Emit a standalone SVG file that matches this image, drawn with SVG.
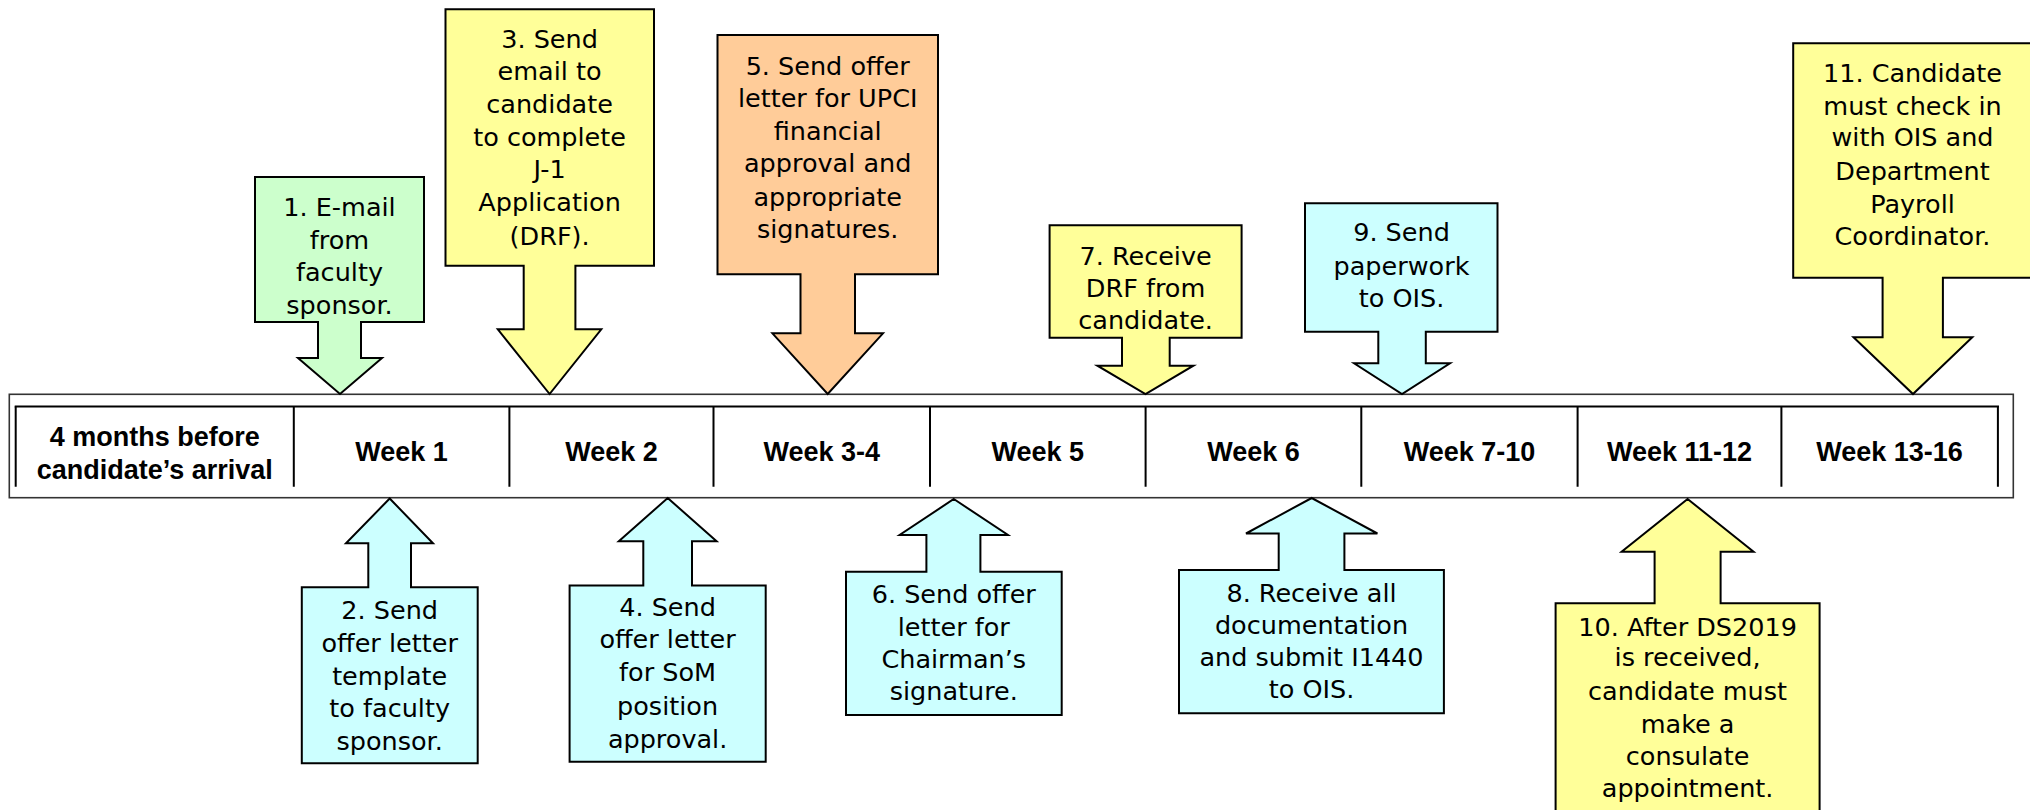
<svg xmlns="http://www.w3.org/2000/svg" width="2030" height="810" viewBox="0 0 2030 810">
<style>
  .call { stroke: #000; stroke-width: 2; stroke-linejoin: miter; }
  .green { fill: #CCFFCC; }
  .yellow { fill: #FFFF99; }
  .orange { fill: #FFCC99; }
  .cyan { fill: #CCFFFF; }
  .t { font-family: "DejaVu Sans", "Liberation Sans", sans-serif; font-size: 25.5px; fill: #000; text-anchor: middle; }
  .wk { font-family: "Liberation Sans", Arial, sans-serif; font-size: 27px; font-weight: bold; fill: #000; text-anchor: middle; }
  .grid { stroke: #000; stroke-width: 2; fill: none; }
</style>
<rect x="0" y="0" width="2030" height="810" fill="#fff"/>

<g id="timeline">
  <rect x="9.3" y="394.3" width="2004" height="103.4" fill="#fff" stroke="#333" stroke-width="1.6"/>
  <line class="grid" x1="14.7" y1="406.5" x2="1999" y2="406.5" stroke-width="2.6"/>
  <path class="grid" d="M15.7 406.5V486.7 M293.8 406.5V486.7 M509.4 406.5V486.7 M713.5 406.5V486.7 M930 406.5V486.7 M1145.6 406.5V486.7 M1361.3 406.5V486.7 M1577.6 406.5V486.7 M1781.4 406.5V486.7 M1997.9 406.5V486.7"/>
  <text class="wk" x="154.7" y="446.4">4 months before</text>
  <text class="wk" x="154.7" y="478.7">candidate’s arrival</text>
  <text class="wk" x="401.6" y="461.4">Week 1</text>
  <text class="wk" x="611.5" y="461.4">Week 2</text>
  <text class="wk" x="821.7" y="461.4">Week 3-4</text>
  <text class="wk" x="1037.8" y="461.4">Week 5</text>
  <text class="wk" x="1253.5" y="461.4">Week 6</text>
  <text class="wk" x="1469.5" y="461.4">Week 7-10</text>
  <text class="wk" x="1679.5" y="461.4">Week 11-12</text>
  <text class="wk" x="1889.6" y="461.4">Week 13-16</text>
</g>

<g id="step1">
  <path class="call green" d="M255 177H424V322H361V358H382L340 394L298 358H318V322H255Z"/>
  <text class="t" x="339.5" y="216.2">1. E-mail</text>
  <text class="t" x="339.5" y="248.5">from</text>
  <text class="t" x="339.5" y="281">faculty</text>
  <text class="t" x="339.5" y="313.5">sponsor.</text>
</g>

<g id="step3">
  <path class="call yellow" d="M445.5 9.3H654V265.7H575.4V329.3H601.3L549.6 394L497.8 329.3H523.7V265.7H445.5Z"/>
  <text class="t" x="549.6" y="47.5">3. Send</text>
  <text class="t" x="549.6" y="80.2">email to</text>
  <text class="t" x="549.6" y="112.5">candidate</text>
  <text class="t" x="549.6" y="146">to complete</text>
  <text class="t" x="549.6" y="177.7">J-1</text>
  <text class="t" x="549.6" y="211">Application</text>
  <text class="t" x="549.6" y="244.5">(DRF).</text>
</g>

<g id="step5">
  <path class="call orange" d="M717.5 35H938V274.3H855V333.3H883L827.7 394L772.4 333.3H800.5V274.3H717.5Z"/>
  <text class="t" x="827.7" y="74.5">5. Send offer</text>
  <text class="t" x="827.7" y="106.8">letter for UPCI</text>
  <text class="t" x="827.7" y="139.5">financial</text>
  <text class="t" x="827.7" y="172.2">approval and</text>
  <text class="t" x="827.7" y="205.5">appropriate</text>
  <text class="t" x="827.7" y="237.8">signatures.</text>
</g>

<g id="step7">
  <path class="call yellow" d="M1049.6 225.3H1241.6V337.7H1169.7V365.7H1193.4L1145.5 394L1097.4 365.7H1122V337.7H1049.6Z"/>
  <text class="t" x="1145.6" y="264.5">7. Receive</text>
  <text class="t" x="1145.6" y="296.8">DRF from</text>
  <text class="t" x="1145.6" y="328.8">candidate.</text>
</g>

<g id="step9">
  <path class="call cyan" d="M1305 203.3H1497.5V331.7H1425.8V363.3H1450L1402 394L1354.1 363.3H1378.3V331.7H1305Z"/>
  <text class="t" x="1401.5" y="241.2">9. Send</text>
  <text class="t" x="1401.5" y="274.5">paperwork</text>
  <text class="t" x="1401.5" y="307.2">to OIS.</text>
</g>

<g id="step11">
  <path class="call yellow" d="M1793.2 43.3H2033V277.7H1942.9V337.3H1972.3L1913 394L1853.5 337.3H1882.6V277.7H1793.2Z"/>
  <text class="t" x="1912.5" y="82.2">11. Candidate</text>
  <text class="t" x="1912.5" y="114.5">must check in</text>
  <text class="t" x="1912.5" y="146.2">with OIS and</text>
  <text class="t" x="1912.5" y="179.5">Department</text>
  <text class="t" x="1912.5" y="212.8">Payroll</text>
  <text class="t" x="1912.5" y="244.5">Coordinator.</text>
</g>

<g id="step2">
  <path class="call cyan" d="M389.7 498.5L433 543.3H411V587.3H477.7V763.3H301.8V587.3H368.3V543.3H346Z"/>
  <text class="t" x="389.7" y="618.8">2. Send</text>
  <text class="t" x="389.7" y="651.8">offer letter</text>
  <text class="t" x="389.7" y="684.5">template</text>
  <text class="t" x="389.7" y="716.8">to faculty</text>
  <text class="t" x="389.7" y="749.5">sponsor.</text>
</g>

<g id="step4">
  <path class="call cyan" d="M667.7 498L716.6 541.3H692V585.5H765.7V761.7H569.6V585.5H643.3V541.3H618.8Z"/>
  <text class="t" x="667.6" y="616.2">4. Send</text>
  <text class="t" x="667.6" y="647.8">offer letter</text>
  <text class="t" x="667.6" y="681.2">for SoM</text>
  <text class="t" x="667.6" y="714.5">position</text>
  <text class="t" x="667.6" y="747.8">approval.</text>
</g>

<g id="step6">
  <path class="call cyan" d="M953.8 499L1008 535H980.4V571.7H1061.7V715H846V571.7H926.4V535H899.6Z"/>
  <text class="t" x="953.8" y="602.8">6. Send offer</text>
  <text class="t" x="953.8" y="636.2">letter for</text>
  <text class="t" x="953.8" y="667.8">Chairman’s</text>
  <text class="t" x="953.8" y="700.2">signature.</text>
</g>

<g id="step8">
  <path class="call cyan" d="M1311.7 498L1377.4 533.5H1344.4V570H1443.9V713.3H1179V570H1278.7V533.5H1246Z"/>
  <text class="t" x="1311.5" y="601.5">8. Receive all</text>
  <text class="t" x="1311.5" y="633.8">documentation</text>
  <text class="t" x="1311.5" y="666.2">and submit I1440</text>
  <text class="t" x="1311.5" y="697.8">to OIS.</text>
</g>

<g id="step10">
  <path class="call yellow" d="M1687.6 499L1753.6 551.7H1720.6V603.3H1819.6V818H1555.6V603.3H1654.6V551.7H1621.6Z"/>
  <text class="t" x="1687.6" y="635.5">10. After DS2019</text>
  <text class="t" x="1687.6" y="666.2">is received,</text>
  <text class="t" x="1687.6" y="699.5">candidate must</text>
  <text class="t" x="1687.6" y="732.8">make a</text>
  <text class="t" x="1687.6" y="764.5">consulate</text>
  <text class="t" x="1687.6" y="796.8">appointment.</text>
</g>
</svg>
